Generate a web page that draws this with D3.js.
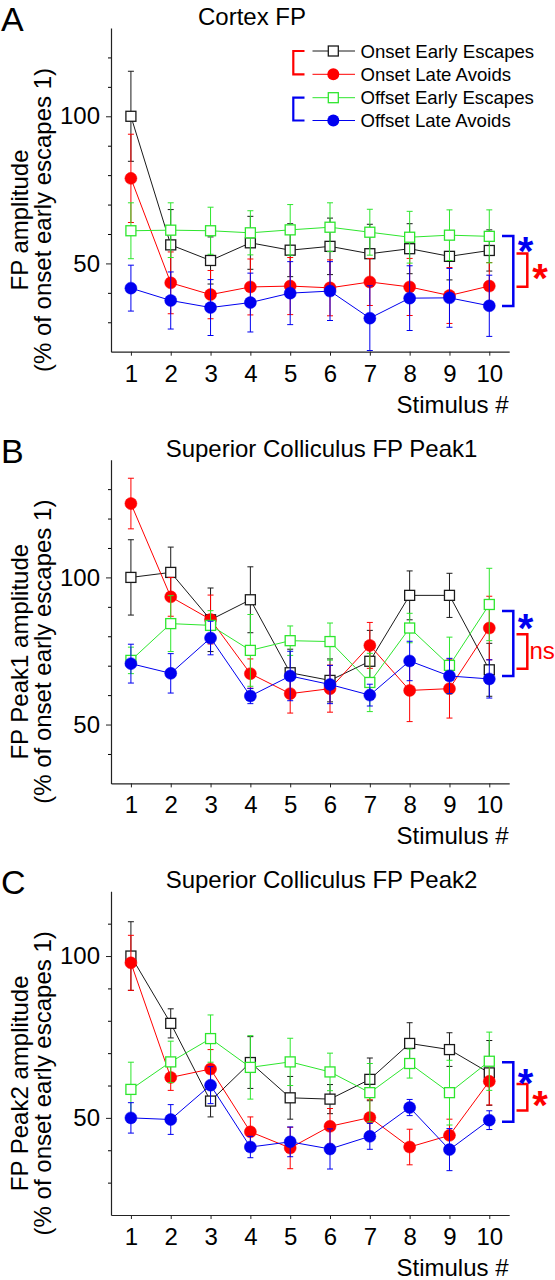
<!DOCTYPE html>
<html>
<head>
<meta charset="utf-8">
<script src="https://cdn.jsdelivr.net/npm/d3@7"></script>
<style>
  html, body { margin: 0; padding: 0; background: #fff; }
  svg { display: block; }
  text { font-family: "Liberation Sans", Arial, Helvetica, sans-serif; fill: #000; }
</style>
</head>
<body>
<svg id="chart" width="555" height="1280"></svg>
<script>
// ---------------- DATA ----------------
const stimuli = [1, 2, 3, 4, 5, 6, 7, 8, 9, 10];
const seriesNames = ["Onset Early Escapes", "Onset Late Avoids", "Offset Early Escapes", "Offset Late Avoids"];
const panelLetters = ["A", "B", "C"];
const panelTitles = ["Cortex FP", "Superior Colliculus FP Peak1", "Superior Colliculus FP Peak2"];
const yLabelLine1 = ["FP amplitude", "FP Peak1 amplitude", "FP Peak2 amplitude"];
const yLabelLine2 = "(% of onset early escapes 1)";
const xLabel = "Stimulus #";
const yDomains = [[20, 130], [30, 140], [20, 120]];
const yMajorTicks = [50, 100];

// Panel A: Cortex FP
const cortexOnsetEarly    = [100, 56.3, 51.0, 57.0, 54.5, 55.8, 53.3, 55.0, 52.4, 54.4];
const cortexOnsetEarlyErr = [15.3, 12.0, 8.0, 9.0, 9.0, 9.6, 10.0, 8.5, 8.0, 7.0];
const cortexOnsetLate     = [78.9, 43.4, 39.4, 42.0, 42.3, 41.7, 43.7, 42.0, 39.1, 42.3];
const cortexOnsetLateErr  = [15.0, 10.5, 8.2, 9.5, 9.7, 9.5, 8.0, 9.7, 9.5, 8.0];
const cortexOffsetEarly   = [61.1, 61.3, 61.1, 60.4, 61.4, 62.3, 60.6, 58.9, 59.6, 59.2];
const cortexOffsetEarlyErr= [9.5, 9.3, 8.0, 7.5, 8.6, 8.3, 7.8, 8.8, 8.6, 9.0];
const cortexOffsetLate    = [41.6, 37.4, 35.0, 36.7, 39.9, 40.6, 31.4, 38.2, 38.3, 35.6];
const cortexOffsetLateErr = [7.8, 9.7, 9.5, 10.0, 10.7, 10.0, 11.0, 11.0, 10.0, 10.4];

// Panel B: Superior Colliculus FP Peak1
const peak1OnsetEarly     = [100, 101.7, 85.6, 92.4, 67.6, 65.0, 71.5, 93.9, 93.9, 68.6];
const peak1OnsetEarlyErr  = [12.8, 8.6, 10.8, 11.2, 8.0, 7.3, 10.5, 8.3, 7.5, 9.0];
const peak1OnsetLate      = [125.1, 93.4, 85.7, 67.3, 60.5, 62.2, 76.9, 61.6, 62.2, 82.8];
const peak1OnsetLateErr   = [8.6, 6.6, 8.3, 5.0, 6.6, 8.0, 7.8, 10.6, 10.0, 10.8];
const peak1OffsetEarly    = [71.8, 84.3, 83.7, 75.2, 78.5, 78.2, 64.3, 82.8, 70.1, 90.8];
const peak1OffsetEarlyErr = [4.5, 9.5, 5.0, 12.2, 5.0, 6.3, 9.9, 5.0, 9.6, 12.3];
const peak1OffsetLate     = [70.7, 67.4, 79.4, 59.7, 66.5, 63.6, 60.0, 71.6, 66.5, 65.5];
const peak1OffsetLateErr  = [6.6, 6.7, 5.7, 2.6, 8.4, 6.5, 3.7, 6.7, 6.0, 6.5];

// Panel C: Superior Colliculus FP Peak2
const peak2OnsetEarly     = [100, 79.2, 55.2, 67.1, 56.2, 55.8, 61.9, 73.0, 71.1, 63.9];
const peak2OnsetEarlyErr  = [10.6, 4.5, 4.9, 8.0, 6.6, 4.5, 6.6, 6.4, 5.2, 10.0];
const peak2OnsetLate      = [97.9, 62.5, 65.1, 45.7, 40.7, 47.4, 50.1, 41.0, 44.6, 61.3];
const peak2OnsetLateErr   = [8.5, 4.0, 6.0, 4.6, 6.4, 5.5, 5.5, 5.5, 5.0, 7.3];
const peak2OffsetEarly    = [58.8, 67.3, 74.5, 65.6, 67.3, 64.2, 57.8, 66.8, 57.8, 67.5];
const peak2OffsetEarlyErr = [8.4, 6.4, 7.3, 9.8, 7.3, 5.8, 9.0, 4.5, 10.0, 9.0];
const peak2OffsetLate     = [50.0, 49.5, 60.1, 41.0, 42.6, 40.4, 44.3, 53.2, 40.2, 49.3];
const peak2OffsetLateErr  = [4.7, 4.6, 5.7, 3.3, 4.6, 6.2, 4.0, 2.5, 6.5, 2.9];

// Significance brackets (data units) and labels
const onsetBracket  = [[53.4, 42.1], [80.7, 69.0], [60.5, 52.3]];
const offsetBracket = [[59.3, 35.5], [88.6, 66.5], [67.2, 48.8]];
const onsetMark     = ["*", "ns", "*"];
const onsetMarkY    = [47.7, 72.4, 56.4];
const offsetMarkY   = [56.9, 85.4, 63.3];

// ---------------- STYLE ----------------
const colors  = ["#1a1a1a", "#ff0000", "#2ee62e", "#0000f0"];
const symbols = ["square", "circle", "square", "circle"];

const panels = [
  { means: [cortexOnsetEarly, cortexOnsetLate, cortexOffsetEarly, cortexOffsetLate],
    errs:  [cortexOnsetEarlyErr, cortexOnsetLateErr, cortexOffsetEarlyErr, cortexOffsetLateErr], titleX: 252 },
  { means: [peak1OnsetEarly, peak1OnsetLate, peak1OffsetEarly, peak1OffsetLate],
    errs:  [peak1OnsetEarlyErr, peak1OnsetLateErr, peak1OffsetEarlyErr, peak1OffsetLateErr], titleX: 321.5 },
  { means: [peak2OnsetEarly, peak2OnsetLate, peak2OffsetEarly, peak2OffsetLate],
    errs:  [peak2OnsetEarlyErr, peak2OnsetLateErr, peak2OffsetEarlyErr, peak2OffsetLateErr], titleX: 321.5 }
];

const svg = d3.select("#chart");
const panelOffsets = [0, 431.7, 863.3];
const axisTop = 28, axisBottom = 351.7;
const x = d3.scaleLinear().domain([0.5, 10.5]).range([111, 509.2]);

panels.forEach((p, pi) => {
  const g = svg.append("g").attr("transform", `translate(0,${panelOffsets[pi]})`);
  const yDom = yDomains[pi];
  const y = d3.scaleLinear().domain(yDom).range([axisBottom, axisTop]);

  // Panel letter
  g.append("text").attr("x", 1).attr("y", 31).attr("font-size", 34).text(panelLetters[pi]);
  // Title
  g.append("text").attr("x", p.titleX).attr("y", 25).attr("font-size", 24)
    .attr("text-anchor", "middle").text(panelTitles[pi]);

  // Y label (two lines)
  g.append("text").attr("transform", `translate(27.5,220) rotate(-90)`)
    .attr("text-anchor", "middle").attr("font-size", 24).text(yLabelLine1[pi]);
  g.append("text").attr("transform", `translate(51,220) rotate(-90)`)
    .attr("text-anchor", "middle").attr("font-size", 24).text(yLabelLine2);

  // Minor y ticks
  const minor = d3.range(yDom[0] + 10, yDom[1], 10).filter(v => !yMajorTicks.includes(v));
  g.append("g").attr("transform", `translate(${x(0.5)},0)`)
    .call(d3.axisLeft(y).tickValues(minor).tickSize(3).tickFormat(""))
    .call(a => a.select(".domain").remove());
  // Major y axis
  const ya = g.append("g").attr("transform", `translate(${x(0.5)},0)`)
    .call(d3.axisLeft(y).tickValues(yMajorTicks).tickSize(5).tickSizeOuter(0).tickPadding(6));
  ya.selectAll("text").attr("font-size", 24).attr("font-family", null);
  ya.select(".domain").attr("stroke", "#222").attr("stroke-width", 1.2);
  ya.selectAll("line").attr("stroke", "#222");

  // X axis
  const xa = g.append("g").attr("transform", `translate(0,${axisBottom})`)
    .call(d3.axisBottom(x).tickValues(stimuli).tickSize(4).tickSizeOuter(0).tickPadding(9));
  xa.selectAll("text").attr("font-size", 24).attr("font-family", null);
  xa.select(".domain").attr("stroke", "#222").attr("stroke-width", 1.2);
  xa.selectAll("line").attr("stroke", "#222");

  // X label
  g.append("text").attr("x", 508.5).attr("y", 412.5).attr("font-size", 24)
    .attr("text-anchor", "end").text(xLabel);

  // Series
  p.means.forEach((vals, si) => {
    const col = colors[si];
    const pts = stimuli.map((s, i) => ({ s, v: vals[i], e: p.errs[si][i] }));
    const sg = g.append("g");
    // error bars
    pts.forEach(d => {
      const x0 = x(d.s), yt = y(d.v + d.e), yb = y(d.v - d.e);
      sg.append("line").attr("x1", x0).attr("x2", x0).attr("y1", yt).attr("y2", yb)
        .attr("stroke", col).attr("stroke-width", 1);
      [yt, yb].forEach(yy => sg.append("line").attr("x1", x0 - 3).attr("x2", x0 + 3)
        .attr("y1", yy).attr("y2", yy).attr("stroke", col).attr("stroke-width", 1));
    });
    // line
    sg.append("path").datum(pts)
      .attr("d", d3.line().x(d => x(d.s)).y(d => y(d.v)))
      .attr("fill", "none").attr("stroke", col).attr("stroke-width", 1);
    // markers
    if (symbols[si] === "square") {
      sg.selectAll("rect.m").data(pts).join("rect")
        .attr("x", d => x(d.s) - 5).attr("y", d => y(d.v) - 5)
        .attr("width", 10).attr("height", 10)
        .attr("fill", "#fff").attr("stroke", col).attr("stroke-width", 1.3);
    } else {
      sg.selectAll("circle.m").data(pts).join("circle")
        .attr("cx", d => x(d.s)).attr("cy", d => y(d.v)).attr("r", 6)
        .attr("fill", col).attr("stroke", col).attr("stroke-width", 0.5);
    }
  });

  // Significance brackets
  const bracket = (xv, xs, v1, v2, col) => {
    g.append("path")
      .attr("d", `M${xs},${y(v1)}H${xv}V${y(v2)}H${xs}`)
      .attr("fill", "none").attr("stroke", col).attr("stroke-width", 2.5);
  };
  bracket(513.3, 502, offsetBracket[pi][0], offsetBracket[pi][1], colors[3]);
  bracket(527.3, 516.5, onsetBracket[pi][0], onsetBracket[pi][1], colors[1]);
  g.append("text").attr("x", 525.5).attr("y", y(offsetMarkY[pi]) + 22)
    .attr("text-anchor", "middle").attr("font-size", 40).attr("font-weight", "bold")
    .style("fill", colors[3]).text("*");
  if (onsetMark[pi] === "*") {
    g.append("text").attr("x", 540).attr("y", y(onsetMarkY[pi]) + 22)
      .attr("text-anchor", "middle").attr("font-size", 40).attr("font-weight", "bold")
      .style("fill", colors[1]).text("*");
  } else {
    g.append("text").attr("x", 529.5).attr("y", y(onsetMarkY[pi]))
      .attr("font-size", 24).style("fill", colors[1]).text(onsetMark[pi]);
  }
});

// Legend (panel A)
const legend = svg.append("g");
const rowY = [51, 74.3, 97.7, 120.5];
seriesNames.forEach((name, si) => {
  const col = colors[si];
  const ry = rowY[si];
  legend.append("line").attr("x1", 312.5).attr("x2", 355).attr("y1", ry).attr("y2", ry)
    .attr("stroke", col).attr("stroke-width", 1);
  if (symbols[si] === "square") {
    legend.append("rect").attr("x", 328.3).attr("y", ry - 5).attr("width", 10).attr("height", 10)
      .attr("fill", "#fff").attr("stroke", col).attr("stroke-width", 1.3);
  } else {
    legend.append("circle").attr("cx", 333.3).attr("cy", ry).attr("r", 6).attr("fill", col);
  }
  legend.append("text").attr("x", 360.5).attr("y", ry + 6.5).attr("font-size", 18.6).text(name);
});
legend.append("path").attr("d", `M304.5,${rowY[0]}H293.3V${rowY[1]}H304.5`)
  .attr("fill", "none").attr("stroke", colors[1]).attr("stroke-width", 2.2);
legend.append("path").attr("d", `M304.5,${rowY[2]}H293.3V${rowY[3]}H304.5`)
  .attr("fill", "none").attr("stroke", colors[3]).attr("stroke-width", 2.2);
</script>
</body>
</html>
